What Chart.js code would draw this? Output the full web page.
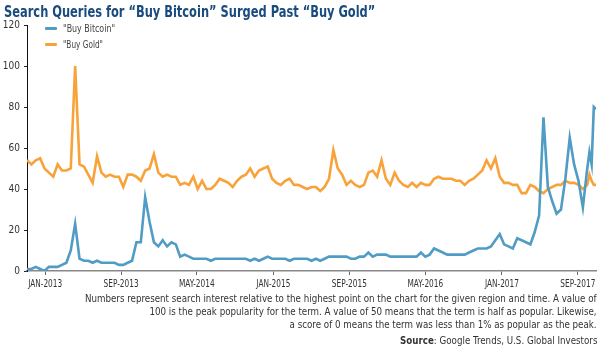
<!DOCTYPE html>
<html>
<head>
<meta charset="utf-8">
<script src="https://cdn.jsdelivr.net/npm/chart.js@4.4.1/dist/chart.umd.min.js"></script>
<style>
  body { margin: 0; background: #fff; }
  #wrap { position: relative; width: 600px; height: 349px; overflow: hidden;
    font-family: 'Liberation Sans Narrow', 'DejaVu Sans Condensed', Roboto, sans-serif; }
  #chart { position: absolute; left: 0; top: 0; }
  #title { position: absolute; left: 4px; top: 2px; font-size: 16px; font-weight: bold; color: #1a4b7e; white-space: nowrap; }
  .leg { position: absolute; left: 45px; font-size: 11px; color: #444; white-space: nowrap; }
  .leg i { display: inline-block; width: 12px; height: 3px; margin-right: 6px; vertical-align: middle; border-radius: 1px; }
  .leg span { display: inline-block; vertical-align: middle; }
  #note { position: absolute; right: 3px; top: 292px; font-size: 11px; line-height: 13px; color: #333; text-align: right; white-space: nowrap; }
  #source { position: absolute; right: 3px; top: 334px; font-size: 11px; color: #333; white-space: nowrap; }
</style>
</head>
<body>
<div id="wrap">
  <canvas id="chart" width="600" height="349"></canvas>
  <div id="title">Search Queries for “Buy Bitcoin” Surged Past “Buy Gold”</div>
  <div class="leg" style="top:21px"><i style="background:#519cc5"></i><span id="legBtc">"Buy Bitcoin"</span></div>
  <div class="leg" style="top:37px"><i style="background:#f9a23a"></i><span id="legGold">"Buy Gold"</span></div>
  <div id="note">Numbers represent search interest relative to the highest point on the chart for the given region and time. A value of<br>100 is the peak popularity for the term. A value of 50 means that the term is half as popular. Likewise,<br>a score of 0 means the term was less than 1% as popular as the peak.</div>
  <div id="source"><b>Source</b>: Google Trends, U.S. Global Investors</div>
</div>
<script>
// Недели от начала выборки (Google Trends, еженедельно)
const firstWeek = '2012-11-04';
const weeks = [
  0, 2, 4, 6, 8, 10, 12, 14, 16, 18, 20, 22, 24, 26, 28, 30, 32, 34, 36, 38,
  40, 42, 44, 46, 48, 50, 52, 54, 56, 58, 60, 62, 64, 66, 68, 70, 72, 74, 76, 78,
  80, 82, 84, 86, 88, 90, 92, 94, 96, 98, 100, 102, 104, 106, 108, 110, 112, 114, 116, 118,
  120, 122, 124, 126, 128, 130, 132, 134, 136, 138, 140, 142, 144, 146, 148, 150, 152, 154, 156, 158,
  160, 162, 164, 166, 168, 170, 172, 174, 176, 178, 180, 182, 184, 186, 188, 190, 192, 194, 196, 198,
  200, 202, 204, 206, 208, 210, 212, 214, 216, 218, 220, 222, 224, 226, 228, 230, 232, 234, 236, 238,
  240, 242, 244, 246, 248, 250, 252, 254, 256, 257, 258, 259, 260
];

const buyBitcoin = [
  1, 1, 2, 1, 0, 2, 2, 2, 3, 4, 10, 23, 6, 5, 5, 4, 5, 4, 4, 4,
  4, 3, 3, 4, 5, 14, 14, 36, 24, 14, 12, 15, 12, 14, 13, 7, 8, 7, 6, 6,
  6, 6, 5, 6, 6, 6, 6, 6, 6, 6, 6, 5, 6, 5, 6, 7, 6, 6, 6, 6,
  5, 6, 6, 6, 6, 5, 6, 5, 6, 7, 7, 7, 7, 7, 6, 6, 7, 7, 9, 7,
  8, 8, 8, 7, 7, 7, 7, 7, 7, 7, 9, 7, 8, 11, 10, 9, 8, 8, 8, 8,
  8, 9, 10, 11, 11, 11, 12, 15, 18, 13, 12, 11, 16, 15, 14, 13, 19, 27, 75, 41,
  34, 28, 30, 45, 65, 52, 44, 31, 50, 58, 52, 80, 79
];

const buyGold = [
  54, 52, 54, 55, 50, 48, 46, 52, 49, 49, 50, 100, 52, 51, 47, 43, 56, 48, 46, 47,
  46, 46, 41, 47, 47, 46, 44, 49, 50, 57, 48, 46, 47, 46, 46, 42, 43, 42, 46, 40,
  44, 40, 40, 42, 45, 44, 43, 41, 44, 46, 47, 50, 46, 49, 50, 51, 45, 43, 42, 44,
  45, 42, 42, 41, 40, 41, 41, 39, 41, 45, 59, 50, 47, 42, 44, 42, 41, 42, 48, 49,
  46, 54, 45, 42, 48, 44, 42, 41, 43, 41, 43, 42, 42, 45, 46, 45, 45, 45, 44, 44,
  42, 44, 45, 47, 49, 54, 50, 55, 46, 43, 43, 42, 42, 38, 38, 42, 41, 39, 38, 40,
  41, 42, 42, 44, 43, 43, 42, 40, 42, 47, 44, 42, 42
];

const yTicks = [0, 20, 40, 60, 80, 100, 120];
const tickLabels = ['JAN-2013', 'SEP-2013', 'MAY-2014', 'JAN-2015', 'SEP-2015', 'MAY-2016', 'JAN-2017', 'SEP-2017'];
const tickDates = ['2013-01-01', '2013-09-01', '2014-05-01', '2015-01-01', '2015-09-01', '2016-05-01', '2017-01-01', '2017-09-01'];

const weekMs = 7 * 24 * 3600 * 1000;
const tickWeeks = tickDates.map(d => (Date.parse(d) - Date.parse(firstWeek)) / weekMs);

const font = "'Liberation Sans Narrow', 'DejaVu Sans Condensed', Roboto, sans-serif";

// сжать текст по ширине под оригинал
function fitWidth(el, target, origin) {
  el.style.transformOrigin = origin;
  el.style.transform = 'scaleX(' + (target / el.offsetWidth) + ')';
}
fitWidth(document.getElementById('title'), 371, 'left center');
fitWidth(document.getElementById('legBtc'), 52, 'left center');
fitWidth(document.getElementById('legGold'), 40, 'left center');
fitWidth(document.getElementById('note'), 512, 'right center');
fitWidth(document.getElementById('source'), 197, 'right center');

// подписи оси X — узким шрифтом
const xLabels = {
  id: 'xLabels',
  afterDraw(chart) {
    const { ctx, scales: { x } } = chart;
    ctx.save();
    ctx.font = '10px ' + font;
    ctx.fillStyle = '#333';
    ctx.textAlign = 'center';
    ctx.textBaseline = 'middle';
    const sx = 34 / ctx.measureText('JAN-2013').width;
    tickWeeks.forEach((w, i) => {
      ctx.save();
      ctx.translate(x.getPixelForValue(w), x.top + 13);
      ctx.scale(sx, 1);
      ctx.fillText(tickLabels[i], 0, 0);
      ctx.restore();
    });
    ctx.restore();
  }
};

new Chart(document.getElementById('chart'), {
  type: 'line',
  data: {
    datasets: [{
      label: '"Buy Bitcoin"',
      data: weeks.map((w, i) => ({ x: w, y: buyBitcoin[i] })),
      borderColor: '#519cc5',
      borderWidth: 2.6,
      pointRadius: 0,
      tension: 0
    }, {
      label: '"Buy Gold"',
      data: weeks.map((w, i) => ({ x: w, y: buyGold[i] })),
      borderColor: '#f9a23a',
      borderWidth: 2.6,
      pointRadius: 0,
      tension: 0
    }]
  },
  options: {
    responsive: false,
    animation: false,
    devicePixelRatio: 1,
    layout: { padding: { left: 0, right: 4, top: 25, bottom: 0 } },
    plugins: {
      legend: { display: false },
      tooltip: { enabled: false }
    },
    scales: {
      x: {
        type: 'linear',
        min: 0,
        max: 260,
        afterBuildTicks: s => { s.ticks = tickWeeks.map(v => ({ value: v })); },
        afterFit: s => { s.height = 78; },
        ticks: { display: false },
        grid: { drawOnChartArea: false, drawTicks: true, tickLength: 4, color: '#666' },
        border: { color: '#888', width: 1.5 }
      },
      y: {
        min: 0,
        max: 120,
        afterBuildTicks: s => { s.ticks = yTicks.map(v => ({ value: v })); },
        afterFit: s => { s.width = 27; },
        ticks: {
          padding: 4,
          color: '#333',
          font: { family: font, size: 10 }
        },
        grid: { drawOnChartArea: false, drawTicks: true, tickLength: 3, color: '#222' },
        border: { color: '#111', width: 1 }
      }
    }
  },
  plugins: [xLabels]
});
</script>
</body>
</html>
